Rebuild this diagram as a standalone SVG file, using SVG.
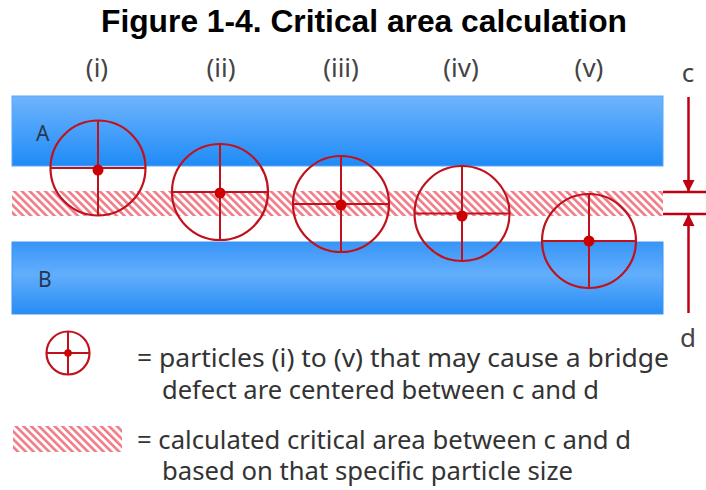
<svg xmlns="http://www.w3.org/2000/svg" width="706" height="490" viewBox="0 0 706 490">
<style>
.title{font-family:"Liberation Sans",Arial,sans-serif;font-weight:bold;font-size:31px;fill:#000}
.lbl{font-family:"Noto Sans","Open Sans",sans-serif;font-size:26px;fill:#444;text-anchor:middle}
.bar{font-family:"Noto Sans","Open Sans",sans-serif;font-size:21px;fill:#24384f}
.leg{font-family:"Noto Sans","Open Sans",sans-serif;font-size:25px;fill:#333}
.ring{fill:none;stroke:#c0121c;stroke-width:2.2}
.cross{stroke:#c0121c;stroke-width:2}
.dot{fill:#cc0000}
.dim{stroke:#c00010;stroke-width:2.5;fill:none}
</style>
<defs>
<linearGradient id="gTop" x1="0" y1="0" x2="0" y2="1">
<stop offset="0" stop-color="#6fb4fd"/>
<stop offset="1" stop-color="#1f8bf6"/>
</linearGradient>
<linearGradient id="gBot" x1="0" y1="0" x2="0" y2="1">
<stop offset="0" stop-color="#3895f7"/>
<stop offset="0.45" stop-color="#62aefc"/>
<stop offset="1" stop-color="#278cf4"/>
</linearGradient>
<pattern id="hatch" width="5.5" height="5.5" patternUnits="userSpaceOnUse" patternTransform="rotate(-45)">
<rect x="0" y="0" width="2.6" height="5.5" fill="#f27a86"/>
</pattern>
<marker id="ah" viewBox="0 0 12 12" refX="12" refY="6" markerWidth="14" markerHeight="12" markerUnits="userSpaceOnUse" orient="auto">
<path d="M0,0 L12,6 L0,12 Z" fill="#c00010"/>
</marker>
</defs>
<rect width="706" height="490" fill="#fff"/>
<text class="title" x="101" y="32" textLength="526" lengthAdjust="spacingAndGlyphs">Figure 1-4. Critical area calculation</text>
<g id="labels">
<text class="lbl" x="97" y="77">(i)</text>
<text class="lbl" x="221" y="77">(ii)</text>
<text class="lbl" x="341" y="77">(iii)</text>
<text class="lbl" x="461" y="77">(iv)</text>
<text class="lbl" x="589" y="77">(v)</text>
<text class="lbl" x="688" y="82">c</text>
<text class="lbl" x="688" y="347">d</text>
</g>
<g id="barA">
<rect x="12" y="96" width="651" height="70" fill="url(#gTop)" stroke="#5aa8f6" stroke-width="1"/>
<text class="bar" x="36" y="141">A</text>
</g>
<g id="barB">
<rect x="12" y="242" width="651" height="72" fill="url(#gBot)" stroke="#3a94f2" stroke-width="1"/>
<text class="bar" x="38" y="287">B</text>
</g>
<g id="critical-area">
<rect x="12" y="191" width="651" height="25" fill="url(#hatch)"/>
</g>
<g id="p1">
<circle class="ring" cx="98" cy="168" r="47.5"/>
<line class="cross" x1="50.5" y1="168" x2="145.5" y2="168"/>
<line class="cross" x1="98" y1="120.5" x2="98" y2="215.5"/>
<circle class="dot" cx="98" cy="170" r="5.5"/>
</g>
<g id="p2">
<circle class="ring" cx="220" cy="192" r="48"/>
<line class="cross" x1="172" y1="192" x2="268" y2="192"/>
<line class="cross" x1="220" y1="144" x2="220" y2="240"/>
<circle class="dot" cx="220" cy="193" r="5.5"/>
</g>
<g id="p3">
<circle class="ring" cx="341" cy="204" r="48"/>
<line class="cross" x1="293" y1="204" x2="389" y2="204"/>
<line class="cross" x1="341" y1="156" x2="341" y2="252"/>
<circle class="dot" cx="341" cy="205" r="5.5"/>
</g>
<g id="p4">
<circle class="ring" cx="462" cy="213.5" r="47.5"/>
<line class="cross" x1="414.5" y1="213.5" x2="509.5" y2="213.5"/>
<line class="cross" x1="462" y1="166" x2="462" y2="261"/>
<circle class="dot" cx="462" cy="216" r="5.5"/>
</g>
<g id="p5">
<circle class="ring" cx="589" cy="241" r="47"/>
<line class="cross" x1="542" y1="241" x2="636" y2="241"/>
<line class="cross" x1="589" y1="194" x2="589" y2="288"/>
<circle class="dot" cx="589" cy="241" r="5.5"/>
</g>
<g id="connectors">
<line class="dim" x1="663" y1="192" x2="706" y2="192"/>
<line class="dim" x1="663" y1="214" x2="706" y2="214"/>
<line class="dim" x1="688.5" y1="97" x2="688.5" y2="192" marker-end="url(#ah)"/>
<line class="dim" x1="688.5" y1="313" x2="688.5" y2="214" marker-end="url(#ah)"/>
</g>
<g id="legend-particle">
<circle class="ring" cx="68" cy="353" r="21.5"/>
<line class="cross" x1="46.5" y1="353" x2="89.5" y2="353"/>
<line class="cross" x1="68" y1="331.5" x2="68" y2="374.5"/>
<circle class="dot" cx="68" cy="353" r="3.8"/>
<text class="leg" x="137" y="367" textLength="532" lengthAdjust="spacingAndGlyphs">= particles (i) to (v) that may cause a bridge</text>
<text class="leg" x="162" y="399" textLength="437" lengthAdjust="spacingAndGlyphs">defect are centered between c and d</text>
</g>
<g id="legend-area">
<rect x="13" y="426" width="109" height="26" fill="url(#hatch)"/>
<text class="leg" x="137" y="449" textLength="494" lengthAdjust="spacingAndGlyphs">= calculated critical area between c and d</text>
<text class="leg" x="162" y="480" textLength="411" lengthAdjust="spacingAndGlyphs">based on that specific particle size</text>
</g>
</svg>
